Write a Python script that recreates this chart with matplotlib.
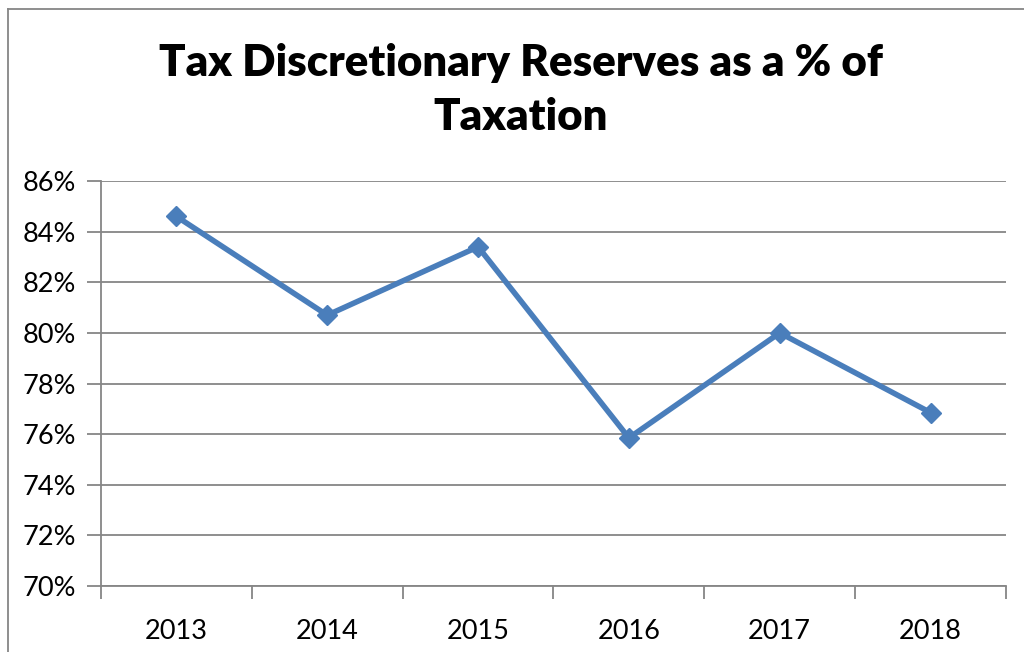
import matplotlib
matplotlib.use("Agg")
from matplotlib import pyplot as plt
from matplotlib.ticker import FuncFormatter
from matplotlib.lines import Line2D

years = ["2013", "2014", "2015", "2016", "2017", "2018"]
reserves_pct = [84.6, 80.7, 83.4, 75.85, 80.0, 76.85]
y_ticks = [70, 72, 74, 76, 78, 80, 82, 84, 86]

plt.rcParams["font.family"] = ["Lato", "DejaVu Sans"]

grey = "#868686"
fig = plt.figure(figsize=(10.24, 6.52), dpi=100)
ax = fig.add_axes([101 / 1024, 1 - 586 / 652, 905 / 1024, 405 / 652])

xs = list(range(len(years)))
ax.plot(xs, reserves_pct, color="#4A7EBB", linewidth=4,
        marker="D", markersize=10, markerfacecolor="#4A7EBB",
        markeredgecolor="#4A7EBB", solid_joinstyle="miter")

ax.set_xlim(-0.5, len(years) - 0.5)
ax.set_ylim(70, 86)
ax.set_yticks(y_ticks)
ax.yaxis.set_major_formatter(FuncFormatter(lambda v, p: f"{v:.0f}%"))
ax.yaxis.grid(True, color=grey, linewidth=1.3)
ax.set_axisbelow(True)

# category labels centred, tick marks between categories
ax.set_xticks(xs)
ax.set_xticklabels(years)
ax.set_xticks([x - 0.5 for x in range(len(years) + 1)], minor=True)
ax.tick_params(axis="x", which="major", length=0, pad=24, labelsize=19.5)
ax.tick_params(axis="x", which="minor", length=9, width=1.3, color=grey, direction="out")
ax.tick_params(axis="y", length=10, width=1.3, color=grey, pad=8, labelsize=19.5)

for side in ["top", "right"]:
    ax.spines[side].set_visible(False)
for side in ["left", "bottom"]:
    ax.spines[side].set_color(grey)
    ax.spines[side].set_linewidth(1.3)

fig.text(521 / 1024, 1 - 90 / 652, "Tax Discretionary Reserves as a % of\nTaxation",
         ha="center", va="center", fontsize=31.5, fontweight="heavy",
         linespacing=1.45)

# chart frame
fig.add_artist(Line2D([8 / 1024, 8 / 1024], [0, 1 - 9 / 652], color=grey, linewidth=1.3,
                      transform=fig.transFigure))
fig.add_artist(Line2D([8 / 1024, 1], [1 - 9 / 652, 1 - 9 / 652], color=grey, linewidth=1.3,
                      transform=fig.transFigure))

fig.savefig("out.png", dpi=100)
